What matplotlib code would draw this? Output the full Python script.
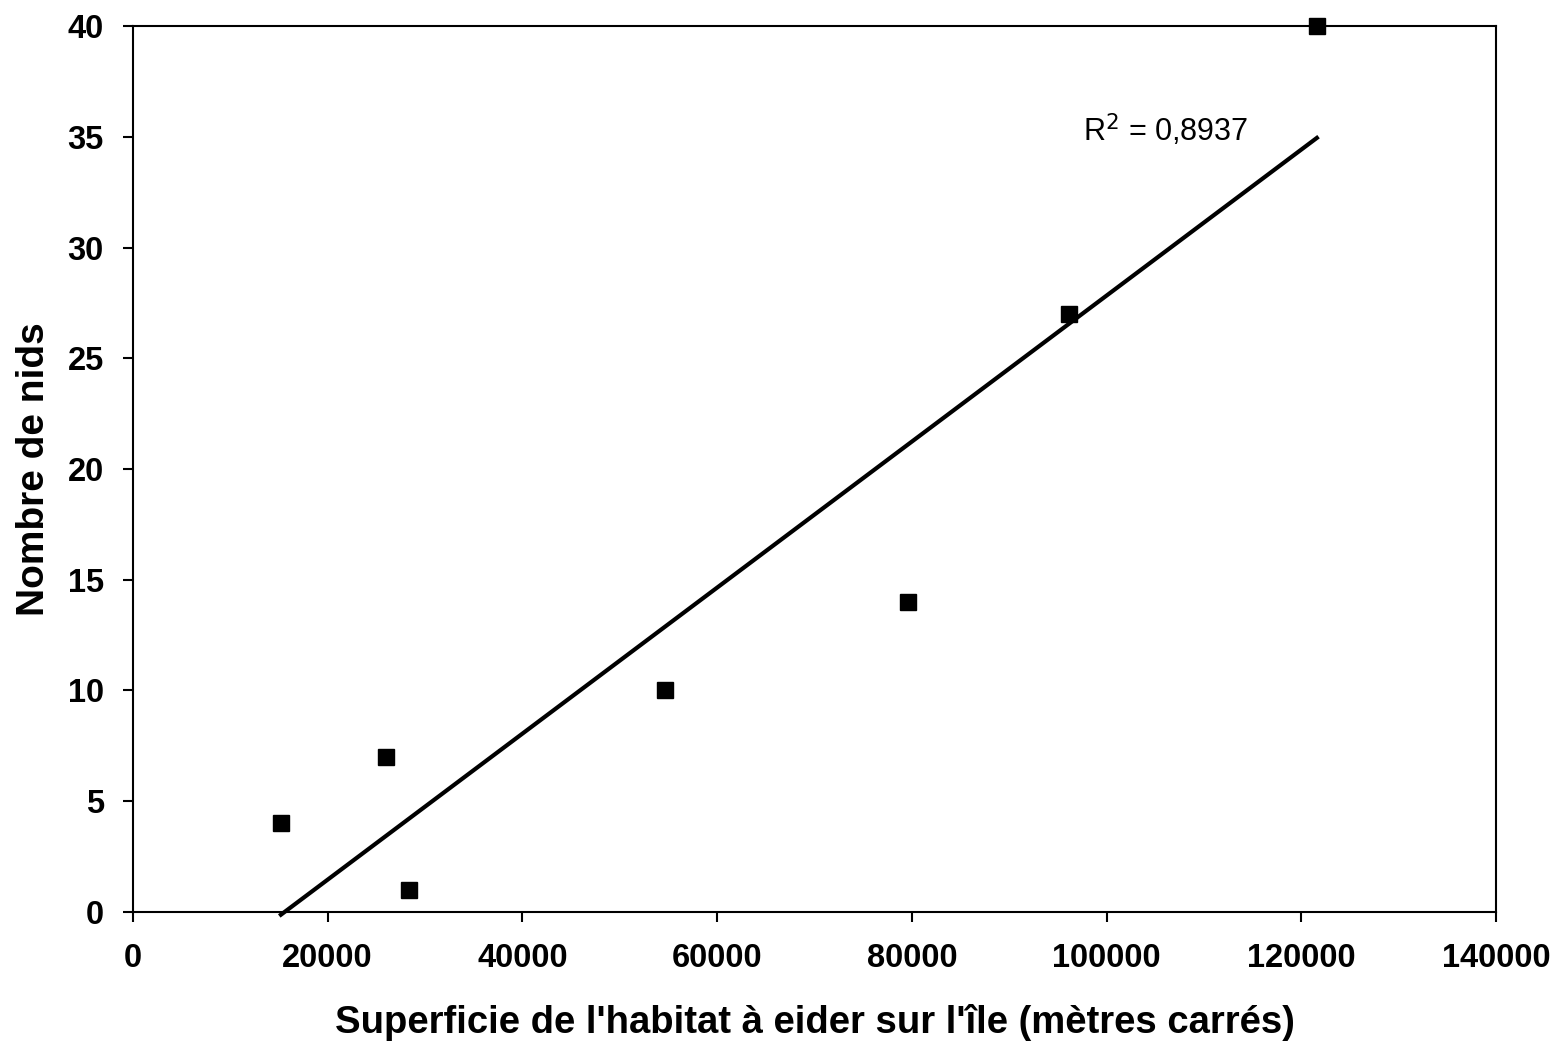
import matplotlib
matplotlib.use("Agg")
import matplotlib.pyplot as plt
import numpy as np

# habitat area (m2) vs number of nests
superficie = [15200, 26000, 28400, 54600, 79600, 96100, 121600]
nids = [4, 7, 1, 10, 14, 27, 40]
xticks = [0, 20000, 40000, 60000, 80000, 100000, 120000, 140000]
yticks = [0, 5, 10, 15, 20, 25, 30, 35, 40]
r2_label = "R$^2$ = 0,8937"

plt.rcParams['font.family'] = ['Liberation Sans', 'DejaVu Sans']

x = np.array(superficie, dtype=float)
y = np.array(nids, dtype=float)
a, b = np.polyfit(x, y, 1)   # linear trend line
xl = np.array([x.min(), x.max()])

fig = plt.figure(figsize=(15.53, 10.45), dpi=100)
ax = fig.add_axes([0.0856, 0.1273, 0.8777, 0.8478])

ax.plot(xl, a * xl + b, "k-", lw=3, zorder=2, clip_on=False)
ax.plot(x, y, "ks", ms=12, zorder=3, clip_on=False)

ax.set_xlim(0, 140000)
ax.set_ylim(0, 40)
ax.set_xticks(xticks)
ax.set_yticks(yticks)
ax.tick_params(direction="out", length=7, width=1.5, labelsize=23.5)
ax.tick_params(axis="x", pad=15)
ax.tick_params(axis="y", pad=14)
for lab in ax.get_xticklabels() + ax.get_yticklabels():
    lab.set_fontweight("bold")
for s in ax.spines.values():
    s.set_linewidth(1.5)

ax.set_xlabel("Superficie de l'habitat à eider sur l'île (mètres carrés)",
              fontsize=27.5, fontweight="bold", labelpad=22)
ax.set_ylabel("Nombre de nids", fontsize=28, fontweight="bold", labelpad=11)

ax.text(97600, 35.3, r2_label, fontsize=22, ha="left", va="center")

fig.savefig("out.png", dpi=100)
